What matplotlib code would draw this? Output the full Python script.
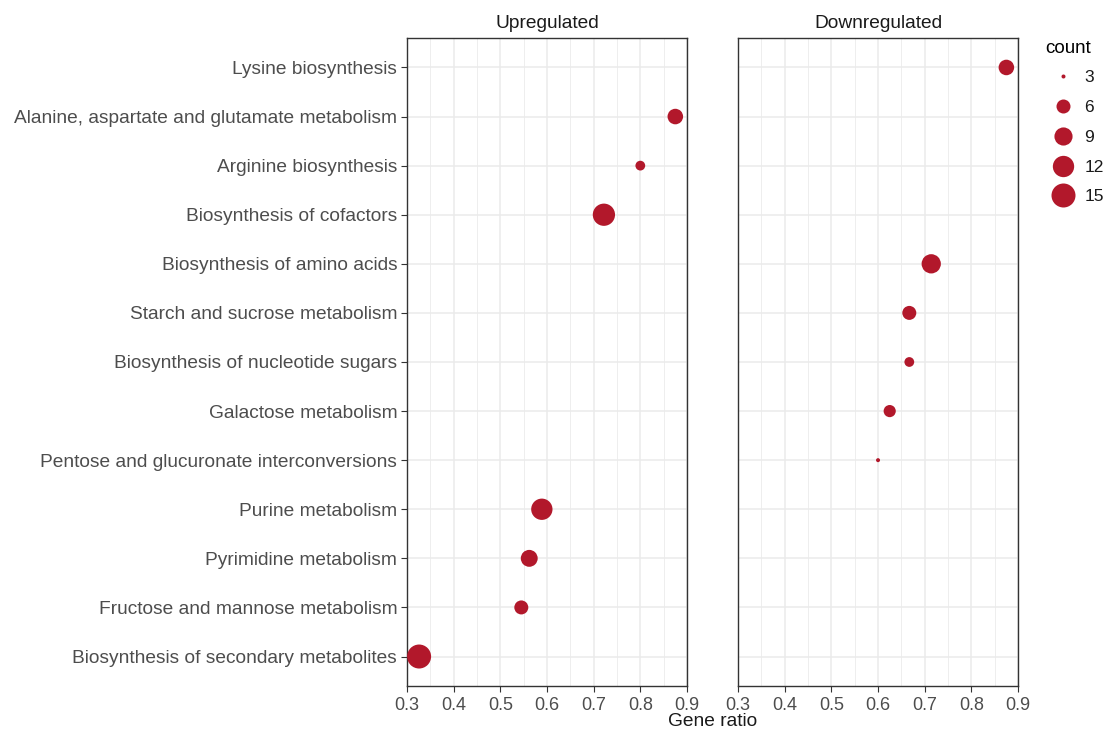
import numpy as np
import matplotlib.pyplot as plt
from matplotlib.lines import Line2D

plt.rcParams['font.family'] = ['Liberation Sans', 'DejaVu Sans']

# pathways, top to bottom
pathways = [
    "Lysine biosynthesis",
    "Alanine, aspartate and glutamate metabolism",
    "Arginine biosynthesis",
    "Biosynthesis of cofactors",
    "Biosynthesis of amino acids",
    "Starch and sucrose metabolism",
    "Biosynthesis of nucleotide sugars",
    "Galactose metabolism",
    "Pentose and glucuronate interconversions",
    "Purine metabolism",
    "Pyrimidine metabolism",
    "Fructose and mannose metabolism",
    "Biosynthesis of secondary metabolites",
]

up_terms = ["Alanine, aspartate and glutamate metabolism", "Arginine biosynthesis",
            "Biosynthesis of cofactors", "Purine metabolism", "Pyrimidine metabolism",
            "Fructose and mannose metabolism", "Biosynthesis of secondary metabolites"]
up_ratio = [0.875, 0.8, 0.722, 0.589, 0.562, 0.545, 0.326]
up_count = [7, 4, 13, 12, 8, 6, 15]

down_terms = ["Lysine biosynthesis", "Biosynthesis of amino acids", "Starch and sucrose metabolism",
              "Biosynthesis of nucleotide sugars", "Galactose metabolism",
              "Pentose and glucuronate interconversions"]
down_ratio = [0.875, 0.714, 0.667, 0.667, 0.625, 0.6]
down_count = [7, 10, 6, 4, 5, 3]

legend_breaks = [3, 6, 9, 12, 15]
xticks = [0.3, 0.4, 0.5, 0.6, 0.7, 0.8, 0.9]

red = '#B2182B'
grid_c = '#EBEBEB'
txt_c = '#4D4D4D'

all_counts = up_count + down_count
cmin, cmax = min(all_counts), max(all_counts)


def diam_px(c):
    # ggplot-like area scaling
    return 4 + 20 * np.sqrt((np.asarray(c, float) - cmin) / (cmax - cmin))


def size_pts(c):
    return (diam_px(c) * 0.72) ** 2


ypos = {p: len(pathways) - i for i, p in enumerate(pathways)}

fig = plt.figure(figsize=(11.05, 7.31), dpi=100)
ax1 = fig.add_axes([0.3683, 0.0616, 0.2534, 0.8864])
ax2 = fig.add_axes([0.6679, 0.0616, 0.2534, 0.8864])

panels = [(ax1, "Upregulated", up_terms, up_ratio, up_count),
          (ax2, "Downregulated", down_terms, down_ratio, down_count)]

for ax, title, terms, ratio, count in panels:
    ax.set_xlim(0.3, 0.9)
    ax.set_ylim(0.4, len(pathways) + 0.6)
    ax.set_xticks(xticks)
    ax.set_xticklabels([f"{t:.1f}" for t in xticks])
    ax.set_xticks(np.arange(0.35, 0.9, 0.1), minor=True)
    ax.set_yticks(list(ypos.values()))
    ax.grid(True, which='major', color=grid_c, lw=1.1)
    ax.grid(True, which='minor', axis='x', color=grid_c, lw=0.6)
    ax.set_axisbelow(True)
    for s in ax.spines.values():
        s.set_color('#333333')
        s.set_linewidth(1.0)
    ax.tick_params(axis='x', which='major', length=4, color='#333333',
                   labelsize=13, labelcolor=txt_c, pad=4)
    ax.tick_params(which='minor', length=0)
    ax.scatter(ratio, [ypos[t] for t in terms], s=size_pts(count),
               color=red, edgecolors='none', zorder=3, clip_on=False)
    ax.set_title(title, fontsize=13.8, color='#1A1A1A', pad=7)

ax1.set_yticklabels(list(ypos.keys()))
ax1.tick_params(axis='y', length=4, color='#333333', labelsize=13.8,
                labelcolor=txt_c, pad=3)
ax2.tick_params(axis='y', length=0, labelleft=False)

fig.text(0.645, 1 - 722 / 731, "Gene ratio", ha='center', va='center',
         fontsize=13.8, color='#1A1A1A')

handles = [Line2D([], [], ls='none', marker='o', color=red, markeredgewidth=0,
                  markersize=diam_px(b) * 0.72) for b in legend_breaks]
leg = fig.legend(handles, [str(b) for b in legend_breaks], title="count",
                 loc='upper left', bbox_to_anchor=(0.946, 0.945), frameon=False,
                 fontsize=12.5, title_fontsize=13.5, labelspacing=0.85,
                 handletextpad=0.25, borderaxespad=0, borderpad=0)
leg._legend_box.align = 'left'
leg._legend_box.sep = 9
for t in leg.get_texts():
    t.set_color('#1A1A1A')

fig.savefig("out.png", dpi=100)
